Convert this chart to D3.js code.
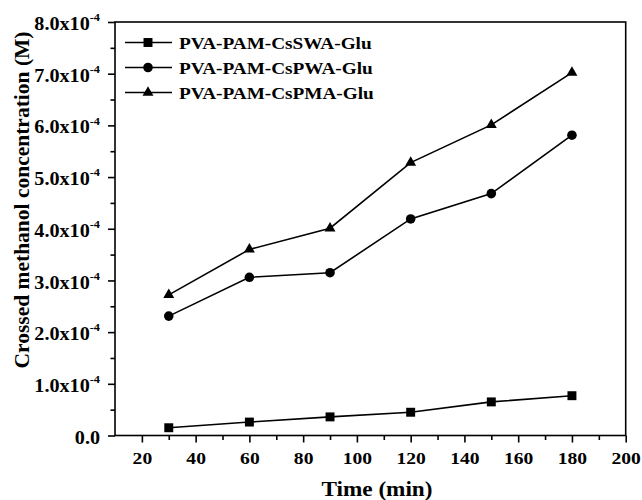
<!DOCTYPE html>
<html><head><meta charset="utf-8">
<script src="https://cdn.jsdelivr.net/npm/d3@7"></script>
<style>
body{margin:0;background:#fff}
svg{display:block}
text{font-family:"Liberation Serif","Times New Roman",serif;font-weight:bold;fill:#000}
</style>
</head><body>
<svg id="c" width="642" height="500"></svg>
<script>
// ---- data ----
const times = [30, 60, 90, 120, 150, 180];
const seriesNames = ["PVA-PAM-CsSWA-Glu", "PVA-PAM-CsPWA-Glu", "PVA-PAM-CsPMA-Glu"];
const swaValues = [1.5e-5, 2.6e-5, 3.6e-5, 4.5e-5, 6.5e-5, 7.7e-5];
const pwaValues = [2.31e-4, 3.06e-4, 3.15e-4, 4.19e-4, 4.68e-4, 5.81e-4];
const pmaValues = [2.72e-4, 3.60e-4, 4.01e-4, 5.28e-4, 6.01e-4, 7.02e-4];
const xTicks = [20, 40, 60, 80, 100, 120, 140, 160, 180, 200];
const xMinorTicks = [30, 50, 70, 90, 110, 130, 150, 170, 190];
const yTicks = [0, 1e-4, 2e-4, 3e-4, 4e-4, 5e-4, 6e-4, 7e-4, 8e-4];
const yMinorTicks = [0.5e-4, 1.5e-4, 2.5e-4, 3.5e-4, 4.5e-4, 5.5e-4, 6.5e-4, 7.5e-4];
const yTickMantissa = ["0.0", "1.0", "2.0", "3.0", "4.0", "5.0", "6.0", "7.0", "8.0"];

const svg = d3.select("#c");
const L = 115, R = 625.7, T = 22, B = 435.5;
const SX = 1.12; // horizontal stretch of glyphs seen in the reference
const x = d3.scaleLinear().domain([10, 200]).range([L, R]);
const y = d3.scaleLinear().domain([0, 8e-4]).range([B, T]);

// frame
svg.append("rect").attr("x", L).attr("y", T).attr("width", R - L).attr("height", B - T)
  .attr("fill", "none").attr("stroke", "#000").attr("stroke-width", 1.6);

// x axis
const gx = svg.append("g").attr("transform", `translate(0,${B})`);
gx.call(d3.axisBottom(x).tickValues(xTicks).tickSize(7).tickPadding(9).tickFormat(d3.format("d")));
gx.select(".domain").remove();
gx.selectAll("line").attr("stroke-width", 1.6);
gx.selectAll("text").attr("font-size", 17.5).attr("font-family", null)
  .attr("transform", `scale(${SX},1)`);
const gxm = svg.append("g").attr("transform", `translate(0,${B})`);
gxm.call(d3.axisBottom(x).tickValues(xMinorTicks).tickSize(4.5).tickFormat(""));
gxm.select(".domain").remove();
gxm.selectAll("line").attr("stroke-width", 1.6);

// y axis
const gy = svg.append("g").attr("transform", `translate(${L},0)`);
gy.call(d3.axisLeft(y).tickValues(yTicks).tickSize(7).tickPadding(8).tickFormat(""));
gy.select(".domain").remove();
gy.selectAll("line").attr("stroke-width", 1.6);
gy.selectAll(".tick text").each(function(d, i) {
  const t = d3.select(this).attr("font-size", 18).attr("font-family", null)
    .attr("x", -15 / SX).attr("dy", "0.42em").attr("transform", `scale(${SX},1)`);
  t.text(null);
  if (d === 0) {
    t.append("tspan").text(yTickMantissa[i]);
  } else {
    t.append("tspan").text(yTickMantissa[i] + "x10");
    t.append("tspan").attr("font-size", 11).attr("dy", "-0.8em").text("-4");
  }
});
const gym = svg.append("g").attr("transform", `translate(${L},0)`);
gym.call(d3.axisLeft(y).tickValues(yMinorTicks).tickSize(4.5).tickFormat(""));
gym.select(".domain").remove();
gym.selectAll("line").attr("stroke-width", 1.6);

// axis titles
svg.append("text").attr("transform", `translate(377,496) scale(1.16,1)`).attr("text-anchor", "middle")
  .attr("font-size", 20).text("Time (min)");
svg.append("text").attr("transform", "translate(29,200) rotate(-90)").attr("text-anchor", "middle")
  .attr("font-size", 21.5).text("Crossed methanol concentration (M)");

// series
const series = [
  { name: seriesNames[0], values: swaValues, sym: d3.symbolSquare, size: 80 },
  { name: seriesNames[1], values: pwaValues, sym: d3.symbolCircle, size: 72 },
  { name: seriesNames[2], values: pmaValues, sym: d3.symbolTriangle, size: 52 }
];
const line = d3.line().x((d, i) => x(times[i])).y(d => y(d));
series.forEach(s => {
  svg.append("path").attr("d", line(s.values)).attr("fill", "none")
    .attr("stroke", "#000").attr("stroke-width", 1.6);
  svg.selectAll(null).data(s.values).enter().append("path")
    .attr("d", d3.symbol().type(s.sym).size(s.size))
    .attr("transform", (d, i) => `translate(${x(times[i])},${y(d)})`)
    .attr("fill", "#000");
});

// legend
const legY = [42.5, 67.5, 92.5];
series.forEach((s, i) => {
  const g = svg.append("g").attr("transform", `translate(0,${legY[i]})`);
  g.append("line").attr("x1", 125).attr("x2", 172).attr("y1", 0).attr("y2", 0)
    .attr("stroke", "#000").attr("stroke-width", 1.6);
  g.append("path").attr("d", d3.symbol().type(s.sym).size(s.size)).attr("transform", "translate(148,0)");
  g.append("text").attr("transform", "translate(179,6) scale(1.1,1)").attr("font-size", 17.5).text(s.name);
});
</script>
</body></html>
